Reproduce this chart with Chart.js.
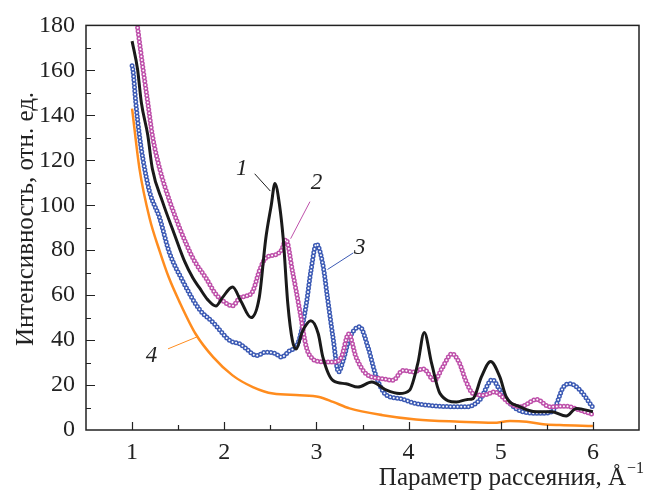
<!DOCTYPE html>
<html>
<head>
<meta charset="utf-8">
<script src="https://cdn.jsdelivr.net/npm/chart.js@4"></script>
<style>
html, body { margin: 0; padding: 0; background: #fff; }
</style>
</head>
<body>
<canvas id="graph" width="647" height="492"></canvas>
<script>
// curve 1 (black line)
const curve1X = [1.00, 1.06, 1.10, 1.17, 1.22, 1.33, 1.46, 1.57, 1.66, 1.73, 1.82, 1.91, 1.98, 2.09, 2.18, 2.29, 2.38, 2.45, 2.51, 2.55, 2.60, 2.64, 2.69, 2.74, 2.78, 2.85, 2.94, 3.02, 3.07, 3.18, 3.32, 3.45, 3.60, 3.76, 3.90, 4.01, 4.10, 4.17, 4.25, 4.34, 4.52, 4.64, 4.70, 4.79, 4.89, 4.99, 5.06, 5.21, 5.39, 5.55, 5.71, 5.82, 6.00]
const curve1Y = [173, 160.3, 145.8, 131.2, 116.2, 101.6, 87, 75, 67.6, 63.3, 58, 55.2, 58.9, 63.6, 57.4, 50, 59, 85, 100, 109.7, 100, 85, 56, 39.7, 36, 44, 48.6, 42.8, 32.4, 22, 20.6, 19.1, 21.3, 17.7, 16.2, 17.7, 29.6, 43.4, 29.6, 16.3, 12.5, 13.6, 14, 23.6, 30.5, 23.6, 14.7, 10.3, 8.1, 8.1, 6.2, 9.6, 8.1]

// curve 2 (magenta triangles)
const curve2X = [1.06, 1.12, 1.17, 1.22, 1.30, 1.41, 1.59, 1.68, 1.80, 1.91, 2.00, 2.09, 2.17, 2.24, 2.31, 2.38, 2.45, 2.56, 2.62, 2.67, 2.74, 2.82, 2.89, 2.95, 3.03, 3.18, 3.27, 3.35, 3.43, 3.54, 3.72, 3.83, 3.94, 4.05, 4.16, 4.28, 4.37, 4.47, 4.55, 4.62, 4.70, 4.81, 4.93, 5.10, 5.21, 5.39, 5.53, 5.71, 5.86, 6.00]
const curve2Y = [179, 160.3, 145.8, 131.2, 116.2, 101.6, 82.6, 75, 67.7, 60.4, 57, 55.2, 58.9, 59.6, 61.8, 70.7, 76.5, 78, 80, 84.7, 70.7, 53, 37, 32, 30.5, 30.2, 32.4, 42.7, 32.4, 25, 22.8, 22.1, 26.5, 25.8, 27.2, 22.1, 28, 33.9, 30, 22, 16.2, 15.5, 16.9, 11.8, 10.3, 13.6, 10.3, 10.6, 8.8, 6.9]

// curve 3 (blue circles)
const curve3X = [1.00, 1.01, 1.04, 1.08, 1.12, 1.19, 1.30, 1.40, 1.55, 1.73, 1.88, 2.06, 2.17, 2.24, 2.35, 2.45, 2.56, 2.62, 2.71, 2.78, 2.82, 2.89, 2.94, 3.00, 3.07, 3.12, 3.18, 3.24, 3.29, 3.36, 3.47, 3.56, 3.65, 3.76, 3.90, 4.08, 4.34, 4.63, 4.77, 4.91, 4.99, 5.10, 5.24, 5.46, 5.57, 5.68, 5.75, 5.86, 6.00]
const curve3Y = [162, 160, 145.8, 131, 120, 106, 94.2, 79.5, 66.3, 53.7, 47.8, 39.8, 38.3, 36.1, 33.1, 34.6, 33.9, 32.4, 35.3, 37, 41.2, 56, 70.7, 82.7, 73.6, 58.9, 41.2, 25.8, 30.9, 41, 45.9, 36.8, 23.6, 15.5, 14, 11.8, 10.6, 10.3, 13.3, 22.4, 17.7, 11.8, 8.1, 7.4, 8.8, 19.1, 20.6, 17.7, 10]

// curve 4 (orange line)
const curve4X = [1.00, 1.08, 1.19, 1.30, 1.40, 1.51, 1.69, 1.88, 2.09, 2.31, 2.53, 2.82, 3.03, 3.18, 3.36, 3.72, 4.08, 4.55, 4.92, 5.10, 5.28, 5.46, 5.64, 6.00]
const curve4Y = [143, 116.3, 94.2, 79.5, 67.7, 57.4, 42.7, 32.4, 24.3, 19.1, 16.2, 15.5, 14.7, 12.5, 9.6, 6.6, 4.7, 3.7, 3.2, 4.0, 3.7, 2.6, 2.2, 1.8]

const colors = ["#1a1a1a", "#be50aa", "#3c5ab4", "#ff8c1e"]
const serif = "'Liberation Serif', 'Times New Roman', serif"

// numbered labels with leader lines, in data units
const labels = [
    {text: "1", at: [2.19, 116], from: [2.33, 114], to: [2.50, 106.3], color: colors[0]},
    {text: "2", at: [3.00, 109.7], from: [2.93, 101.6], to: [2.72, 85.1], color: colors[1]},
    {text: "3", at: [3.47, 81], from: [3.40, 78.8], to: [3.12, 71.4], color: colors[2]},
    {text: "4", at: [1.21, 33.1], from: [1.39, 36.1], to: [1.71, 41.5], color: colors[3]},
]

const pts = (xs, ys) => xs.map((x, i) => ({x, y: ys[i]}))

function line(data, color, width) {
    return {data, borderColor: color, borderWidth: width, pointRadius: 0,
        cubicInterpolationMode: "monotone", fill: false}
}

// dense hollow markers, drawn as dotted strokes along the curve
function markers(data, color) {
    return [
        {...line(data, "#ffffff", 2), borderDash: [0, 3.6], borderCapStyle: "round"},
        {...line(data, color, 5), borderDash: [0, 3.6], borderCapStyle: "round"},
        line(data, color, 1),
    ]
}

const frame = {
    id: "frame",
    afterDraw(chart) {
        const {ctx, chartArea: a, scales: {x, y}} = chart
        ctx.save()
        ctx.strokeStyle = "#222"
        ctx.lineWidth = 1.5
        ctx.strokeRect(a.left, a.top, a.right - a.left, a.bottom - a.top)
        ctx.lineWidth = 1.2
        ctx.beginPath()
        for(let v = 10; v < 180; v += 10) {
            const py = Math.round(y.getPixelForValue(v)) + 0.5
            ctx.moveTo(a.left, py)
            ctx.lineTo(a.left + (v % 20 == 0 ? 9 : 5), py)
        }
        for(let v = 1; v <= 6; v += 0.5) {
            const px = Math.round(x.getPixelForValue(v)) + 0.5
            ctx.moveTo(px, a.bottom)
            ctx.lineTo(px, a.bottom - (v % 1 == 0 ? 8 : 5))
        }
        ctx.stroke()

        // numbered labels
        ctx.lineWidth = 1
        ctx.textAlign = "center"
        ctx.textBaseline = "middle"
        ctx.font = "italic 23px " + serif
        for(const l of labels) {
            ctx.strokeStyle = l.color
            ctx.beginPath()
            ctx.moveTo(x.getPixelForValue(l.from[0]), y.getPixelForValue(l.from[1]))
            ctx.lineTo(x.getPixelForValue(l.to[0]), y.getPixelForValue(l.to[1]))
            ctx.stroke()
            ctx.fillStyle = "#222"
            ctx.fillText(l.text, x.getPixelForValue(l.at[0]), y.getPixelForValue(l.at[1]))
        }

        // axis titles
        ctx.fillStyle = "#222"
        ctx.font = "25px " + serif
        ctx.textBaseline = "alphabetic"
        ctx.save()
        ctx.translate(33, 219)
        ctx.rotate(-Math.PI / 2)
        ctx.fillText("Интенсивность, отн. ед.", 0, 0)
        ctx.restore()
        const main = "Параметр рассеяния, Å"
        ctx.textAlign = "left"
        const w = ctx.measureText(main).width
        ctx.font = "16px " + serif
        const sup = "−1"
        const ws = ctx.measureText(sup).width
        const left = 644 - w - ws - 1
        ctx.font = "25px " + serif
        ctx.fillText(main, left, 485)
        ctx.font = "16px " + serif
        ctx.fillText(sup, left + w + 1, 473)
        ctx.restore()
    }
}

new Chart(document.getElementById("graph"), {
    type: "line",
    data: {
        datasets: [
            line(pts(curve1X, curve1Y), colors[0], 3),
            ...markers(pts(curve2X, curve2Y), colors[1]),
            ...markers(pts(curve3X, curve3Y), colors[2]),
            line(pts(curve4X, curve4Y), colors[3], 2.5),
        ]
    },
    options: {
        responsive: false,
        animation: false,
        layout: {padding: {left: 0, right: 8, top: 22, bottom: 0}},
        plugins: {legend: {display: false}, tooltip: {enabled: false}},
        scales: {
            x: {
                type: "linear", min: 0.5, max: 6.5,
                grid: {display: false, drawTicks: false}, border: {display: false},
                afterFit: s => { s.height = 62 },
                ticks: {
                    stepSize: 0.5, autoSkip: false, maxRotation: 0, padding: 8,
                    color: "#222", font: {family: serif, size: 24},
                    callback: v => (v % 1 == 0 ? v : "")
                }
            },
            y: {
                min: 0, max: 180,
                grid: {display: false, drawTicks: false}, border: {display: false},
                afterFit: s => { s.width = 86 },
                ticks: {
                    stepSize: 20, padding: 11,
                    color: "#222", font: {family: serif, size: 24}
                }
            }
        }
    },
    plugins: [frame]
})
</script>
</body>
</html>
